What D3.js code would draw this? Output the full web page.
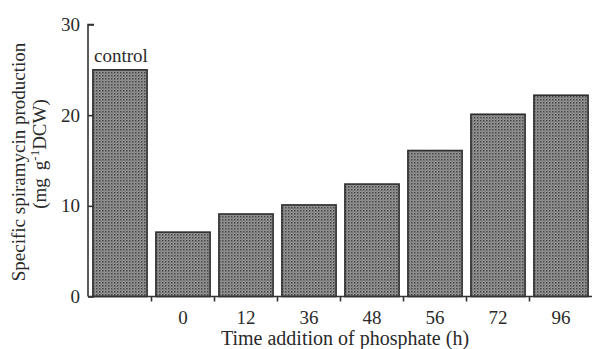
<!DOCTYPE html>
<html><head><meta charset="utf-8">
<script src="https://cdn.jsdelivr.net/npm/d3@7"></script>
<style>body{margin:0;background:#fff}svg{display:block}text{font-family:"Liberation Serif","Times New Roman",serif;fill:#2a2a2a}</style>
</head><body><svg id="c" width="593" height="349"></svg>
<script>
const categories = ["control","0","12","36","48","56","72","96"];
const values = [25, 7.1, 9.1, 10.1, 12.4, 16.1, 20.1, 22.2];
const yTicks = [0, 10, 20, 30];
const xTitle = "Time addition of phosphate (h)";
const yTitle1 = "Specific spiramycin production";

const svg = d3.select("#c");
const defs = svg.append("defs");
const pat = defs.append("pattern").attr("id","dots").attr("width",3).attr("height",3).attr("patternUnits","userSpaceOnUse");
pat.append("rect").attr("width",3).attr("height",3).attr("fill","#959595");
pat.append("rect").attr("width",1.5).attr("height",1.5).attr("fill","#454545");
pat.append("rect").attr("x",1.5).attr("y",1.5).attr("width",1).attr("height",1).attr("fill","#666");

const x = d3.scaleBand().domain(categories).range([88.5, 592.5]).paddingInner(0.14).paddingOuter(0.07);
const y = d3.scaleLinear().domain([0,30]).range([296.5, 24.5]);

// bars
svg.append("g").selectAll("rect").data(values).join("rect")
  .attr("x",(d,i)=>x(categories[i]))
  .attr("y",d=>y(d))
  .attr("width",x.bandwidth())
  .attr("height",d=>y(0)-y(d))
  .attr("fill","url(#dots)")
  .attr("stroke","#2e2e2e").attr("stroke-width",1.6);

// y axis
const ya = svg.append("g").attr("transform","translate(88,0)")
  .call(d3.axisRight(y).tickValues(yTicks).tickSize(6).tickFormat(""));
ya.select(".domain").attr("d",`M6,${y(30)}H0V${y(0)}`).attr("stroke","#333").attr("stroke-width",1.6);
ya.selectAll(".tick line").attr("stroke","#333").attr("stroke-width",1.6);
svg.append("g").selectAll("text").data(yTicks).join("text")
  .attr("x",80).attr("y",d=>y(d)+6.5).attr("text-anchor","end")
  .attr("font-size",19).text(d=>d);

// x axis with ticks at band boundaries
const xa = svg.append("g").attr("transform",`translate(0,${y(0)})`);
xa.append("line").attr("x1",88).attr("x2",592).attr("stroke","#333").attr("stroke-width",1.6);
const bounds = categories.slice(1).map(c=>x(c) - x.step()*x.paddingInner()/2);
xa.selectAll("line.t").data(bounds).join("line").attr("class","t")
  .attr("x1",d=>d).attr("x2",d=>d).attr("y1",0).attr("y2",5)
  .attr("stroke","#333").attr("stroke-width",1.6);
svg.append("g").selectAll("text").data(categories.slice(1)).join("text")
  .attr("x",d=>x(d)+x.bandwidth()/2).attr("y",324).attr("text-anchor","middle")
  .attr("font-size",19).text(d=>d);

// control label
svg.append("text").attr("x",x("control")+x.bandwidth()/2+1).attr("y",62).attr("text-anchor","middle")
  .attr("font-size",19).text("control");

// axis titles
svg.append("text").attr("x",345).attr("y",345).attr("text-anchor","middle").attr("font-size",20).text(xTitle);
svg.append("text").attr("transform","translate(25,162) rotate(-90)").attr("text-anchor","middle")
  .attr("font-size",19).text(yTitle1);
const t2 = svg.append("text").attr("transform","translate(46,154) rotate(-90)").attr("text-anchor","middle").attr("font-size",19);
t2.append("tspan").text("(mg");
t2.append("tspan").attr("dx",8).text("g");
t2.append("tspan").attr("dy",-7).attr("font-size",13).text("-1");
t2.append("tspan").attr("dy",7).text("DCW)");
</script></body></html>
